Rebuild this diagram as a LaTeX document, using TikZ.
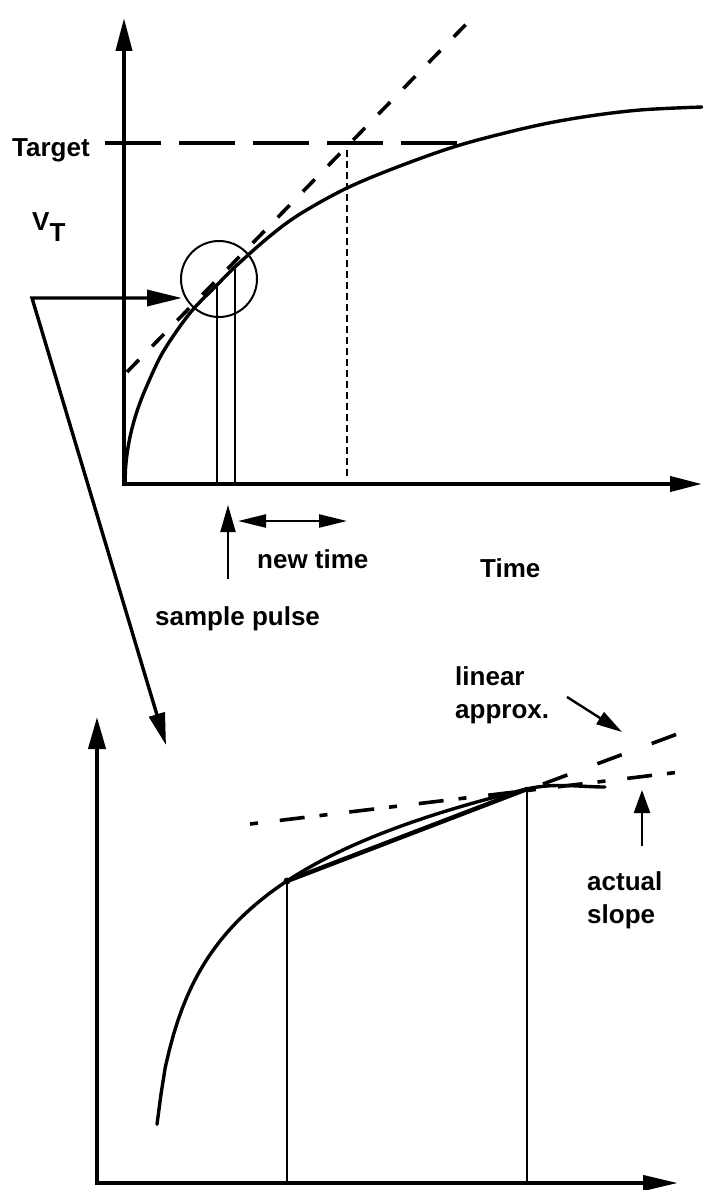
\documentclass[tikz,border=0pt]{standalone}
\usepackage{fontspec}
\setmainfont{Liberation Sans}
\usetikzlibrary{arrows.meta}
\begin{document}
\begin{tikzpicture}[x=1pt,y=-1pt,
  axes/.style={line width=4pt, line join=miter},
  curve/.style={line width=3.4pt, line cap=round, line join=round},
  thinline/.style={line width=1.8pt},
  longdash/.style={line width=3.6pt, dash pattern=on 56pt off 18pt},
  tandash/.style={line width=3.6pt, dash pattern=on 17pt off 19pt},
  finedash/.style={line width=2pt, dash pattern=on 7pt off 4pt},
  apxdash/.style={line width=3.6pt, dash pattern=on 26pt off 32pt},
  dashdot/.style={line width=3.6pt, dash pattern=on 8pt off 22pt on 25pt off 15pt},
  lbl/.style={font=\bfseries\fontsize{26}{30}\selectfont, inner sep=0pt, anchor=base west},
  pointer/.style={line width=2.4pt}
]
\useasboundingbox (0,0) rectangle (702,1190);

% ---------- upper graph ----------
\coordinate (Y1) at (124,18);
\coordinate (O1) at (124,484);
\coordinate (X1) at (702,484);
\draw[axes, {Triangle[length=33pt,width=16pt]}-{Triangle[length=32pt,width=15pt]}] (Y1) -- (O1) -- (X1);

\coordinate (tgtA) at (105,143);
\coordinate (tgtB) at (460,143);
\draw[longdash] (tgtA) -- (tgtB);

\coordinate (tanA) at (127,372);
\coordinate (tanB) at (477,13);
\draw[tandash] (tanA) -- (tanB);

\coordinate (ntA) at (347,150);
\coordinate (ntB) at (347,476);
\draw[finedash] (ntA) -- (ntB);

\draw[curve] plot[domain=125:147, samples=60] (\x, {484 - 21*sqrt(\x-125)})
  -- plot[smooth, tension=0.55] coordinates {(147,385.5) (163,352) (190,313) (217,285) (236,266) (270,236) (300,214) (347,188) (400,166) (460,145) (530,127) (583,117) (640,110) (702,107)};

\node[circle, draw, line width=2pt, minimum size=76pt, inner sep=0pt] (mag) at (219,279) {};

\coordinate (s1top) at (217,285);
\coordinate (s1bot) at (217,484);
\coordinate (s2top) at (235,267);
\coordinate (s2bot) at (235,484);
\draw[thinline] (s1top) -- (s1bot);
\draw[thinline] (s2top) -- (s2bot);

% connector from the circle to the lower graph
\coordinate (magin) at (182,298);
\coordinate (corner) at (32,298);
\coordinate (zoomtip) at (166,745);
\draw[line width=3.4pt, line join=miter, {Triangle[length=35pt,width=16pt]}-{Triangle[length=32pt,width=16pt]}] (magin) -- (corner) -- (zoomtip);

% labels of upper graph
\node[lbl] (target) at (12,157) {Target};
\node[lbl] (vt) at (32,230) {V\raisebox{-12pt}{T}};
\node[lbl] (newtime) at (257,568) {new time};
\node[lbl] (sample) at (155,625) {sample pulse};
\node[lbl] (time) at (480,577) {Time};

\coordinate (spA) at (228,579);
\coordinate (spB) at (228,505);
\draw[line width=2pt, -{Triangle[length=27pt,width=15pt]}] (spA) -- (spB);

\coordinate (ntL) at (238,521);
\coordinate (ntR) at (347,521);
\draw[pointer, {Triangle[length=28pt,width=13pt]}-{Triangle[length=28pt,width=13pt]}] (ntL) -- (ntR);

% ---------- lower graph ----------
\coordinate (Y2) at (97,717);
\coordinate (O2) at (97,1183);
\coordinate (X2) at (678,1183);
\draw[axes, {Triangle[length=32pt,width=17pt]}-{Triangle[length=35pt,width=15pt]}] (Y2) -- (O2) -- (X2);

\draw[curve] plot[domain=157:527, samples=90] (\x, {881 - 92.1*ln((\x-147.2)/139.8)})
  .. controls (555,782.5) and (580,787) .. (605,787);

\coordinate (P1) at (287,881);
\coordinate (P2) at (527,789);
\draw[line width=4.5pt, line cap=round] (P1) -- (P2);
\fill (P1) circle (3.5pt);

\coordinate (P1b) at (287,1183);
\coordinate (P2b) at (527,1183);
\draw[thinline] (P1) -- (P1b);
\draw[thinline] (P2) -- (P2b);

\coordinate (apxA) at (543,784);
\coordinate (apxB) at (680,733);
\draw[apxdash] (apxA) -- (apxB);

\coordinate (actA) at (250,824);
\coordinate (actB) at (680,772);
\draw[dashdot] (actA) -- (actB);

\node[lbl] (linear) at (455,685) {linear};
\node[lbl] (approx) at (455,718) {approx.};
\node[lbl] (actual) at (587,890) {actual};
\node[lbl] (slope) at (587,923) {slope};

\coordinate (laA) at (567,697);
\coordinate (laB) at (622,732);
\draw[pointer, -{Triangle[length=26pt,width=14pt]}] (laA) -- (laB);

\coordinate (asA) at (642,846);
\coordinate (asB) at (642,790);
\draw[pointer, -{Triangle[length=23pt,width=16pt]}] (asA) -- (asB);
\end{tikzpicture}
\end{document}
